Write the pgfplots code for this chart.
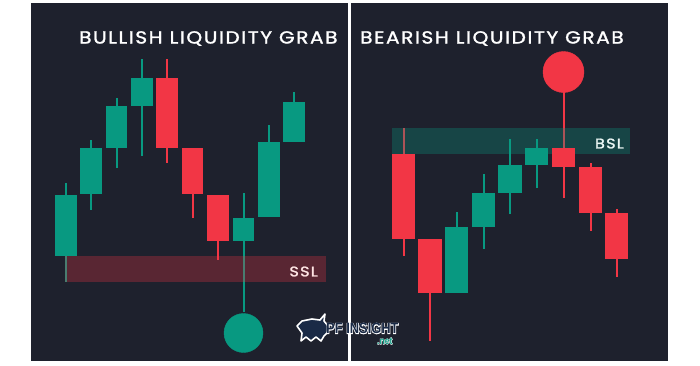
\documentclass[border=0pt]{standalone}
\usepackage{fontspec}
\setmainfont{Poppins}
\newfontfamily\titlefont{Poppins}[FakeBold=1.5, FakeStretch=1.15, LetterSpace=9]
\newfontfamily\wmfont{Liberation Sans}[FakeStretch=0.86]
\newfontfamily\wmout{Liberation Sans}[FakeStretch=0.86, FakeBold=7]
\usepackage{pgfplots}
\pgfplotsset{compat=1.18}
\definecolor{bg}{RGB}{30,33,45}
\definecolor{cgreen}{RGB}{8,153,129}
\definecolor{cred}{RGB}{242,54,69}
\definecolor{navy}{RGB}{26,42,70}
\newcommand{\wick}[4]{\addplot[#4, line width=2pt] coordinates {(#1,#2) (#1,#3)};}
\newcommand{\body}[5]{\addplot[fill=#5, draw=none] coordinates {(#1,#3) (#2,#3) (#2,#4) (#1,#4)} -- cycle;}
\begin{document}
\begin{tikzpicture}
\begin{axis}[width=700pt, height=365pt, scale only axis,
  xmin=0, xmax=700, ymin=0, ymax=365, y dir=reverse,
  axis lines=none, ticks=none, clip=false]
\fill[white] (axis cs:0,0) rectangle (axis cs:700,365);
\fill[bg] (axis cs:31,3) rectangle (axis cs:668,361);
% ---- left panel wicks
\wick{66}{183}{282}{cgreen}
\wick{91}{140}{210}{cgreen}
\wick{116.5}{98}{168}{cgreen}
\wick{142}{59}{156}{cgreen}
\wick{167}{59}{163}{cred}
\wick{192.5}{148}{218}{cred}
\wick{218}{195}{260}{cred}
\wick{243.5}{193}{312}{cgreen}
\wick{269}{125}{217}{cgreen}
\wick{294}{92}{142}{cgreen}
% ---- right panel wicks
\wick{403.5}{128}{256}{cred}
\wick{430}{239}{341}{cred}
\wick{456.5}{212}{293}{cgreen}
\wick{483.5}{174}{249}{cgreen}
\wick{510}{139}{214}{cgreen}
\wick{536.5}{139}{188}{cgreen}
\wick{563.5}{80}{198}{cred}
\wick{590.5}{163}{231}{cred}
\wick{616.5}{209}{277}{cred}
% ---- liquidity bands
\addplot[fill=cred, fill opacity=0.28, draw=none] coordinates {(65,256) (326,256) (326,282) (65,282)} -- cycle;
\addplot[fill=cgreen, fill opacity=0.3, draw=none] coordinates {(392,128) (630,128) (630,154) (392,154)} -- cycle;
% ---- left panel bodies
\body{55}{77}{195}{256}{cgreen}
\body{80}{102}{148}{194}{cgreen}
\body{106}{127}{106}{148}{cgreen}
\body{131}{153}{78}{106}{cgreen}
\body{156}{178}{78}{148}{cred}
\body{182}{203}{148}{194}{cred}
\body{207}{229}{195}{241}{cred}
\body{233}{254}{218}{241}{cgreen}
\body{258}{280}{142}{217}{cgreen}
\body{283}{305}{102}{142}{cgreen}
% ---- right panel bodies
\body{392}{415}{154}{239}{cred}
\body{418}{442}{239}{293}{cred}
\body{445}{468}{227}{293}{cgreen}
\body{472}{495}{193}{227}{cgreen}
\body{498}{522}{165}{193}{cgreen}
\body{525}{548}{148}{165}{cgreen}
\body{552}{575}{148}{167}{cred}
\body{579}{602}{167}{213}{cred}
\body{605}{628}{213}{259}{cred}
% ---- grab markers
\addplot[only marks, mark=*, mark size=19.5, color=cgreen] coordinates {(243.5,333)};
\addplot[only marks, mark=*, mark size=20.5, color=cred] coordinates {(563.5,72)};
% ---- texts
\node[anchor=west, text=white, font=\titlefont\fontsize{17.5}{17.5}\selectfont, inner sep=0pt] at (axis cs:79,38.5) {BULLISH LIQUIDITY GRAB};
\node[anchor=west, text=white, font=\titlefont\fontsize{17.5}{17.5}\selectfont, inner sep=0pt] at (axis cs:360,38.5) {BEARISH LIQUIDITY GRAB};
\node[anchor=east, text=white!90!red, font=\titlefont\fontsize{14}{14}\selectfont, inner sep=0pt] at (axis cs:318,271.5) {SSL};
\node[anchor=east, text=white!92!cgreen, font=\titlefont\fontsize{14}{14}\selectfont, inner sep=0pt] at (axis cs:624,143.5) {BSL};
% ---- divider
\draw[white, line width=2.5pt] (axis cs:349.5,3) -- (axis cs:349.5,361);
% ---- watermark
\filldraw[navy, draw=white, line width=1.6pt, line join=round]
  (axis cs:297,326) -- (axis cs:302,321) -- (axis cs:312,319) -- (axis cs:320,320)
  -- (axis cs:325,314) -- (axis cs:324,321) -- (axis cs:329,327) -- (axis cs:327,333)
  -- (axis cs:324,336) -- (axis cs:321,341) -- (axis cs:316,337) -- (axis cs:311,341)
  -- (axis cs:306,337) -- (axis cs:301,341) -- (axis cs:302,333) -- cycle;
\node[text=white, font=\wmout\bfseries\fontsize{15}{15}\selectfont, inner sep=0pt, anchor=west] at (axis cs:326,328.5) {PF INSIGHT};
\node[text=navy, font=\wmfont\bfseries\fontsize{15}{15}\selectfont, inner sep=0pt, anchor=west] at (axis cs:326,328.5) {PF INSIGHT};
\node[text=white, font=\wmout\bfseries\fontsize{10}{10}\selectfont, inner sep=0pt, anchor=west] at (axis cs:377,341) {.net};
\node[text=cgreen, font=\wmfont\bfseries\fontsize{10}{10}\selectfont, inner sep=0pt, anchor=west] at (axis cs:377,341) {.net};
\end{axis}
\end{tikzpicture}
\end{document}
